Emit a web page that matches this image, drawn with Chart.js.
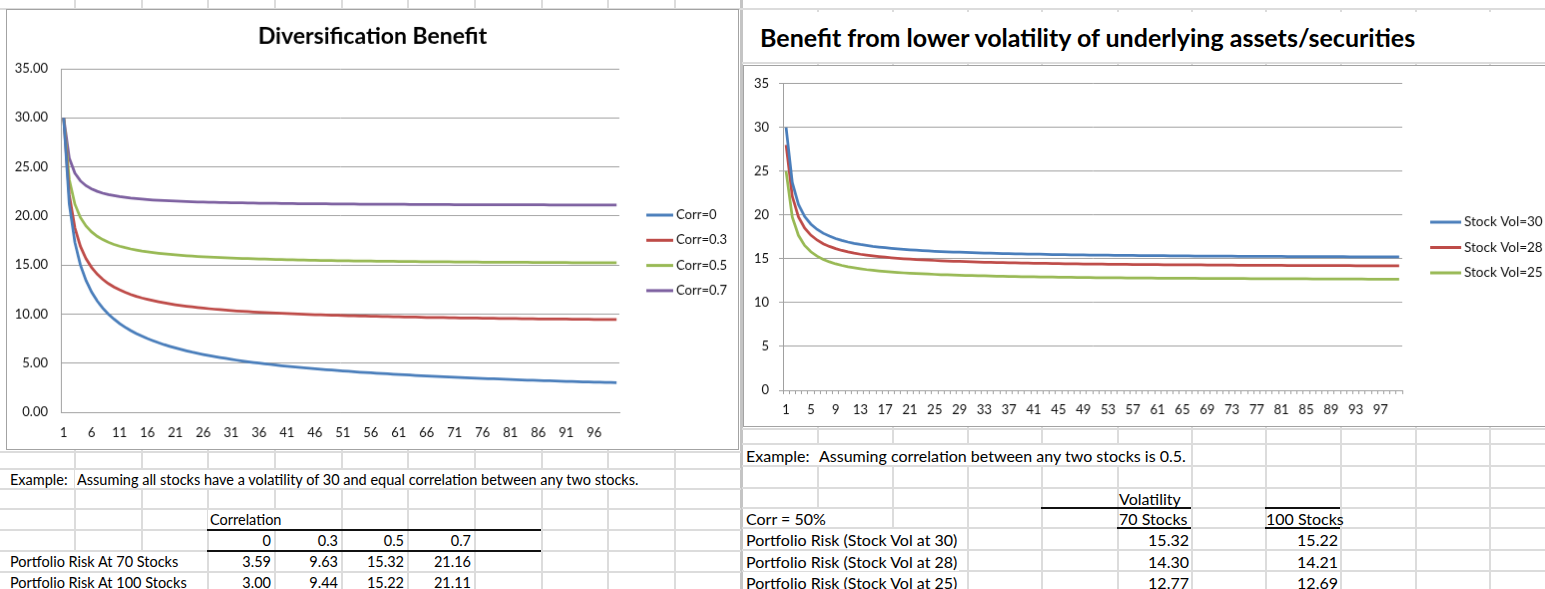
<!DOCTYPE html>
<html>
<head>
<meta charset="utf-8">
<script src="https://cdn.jsdelivr.net/npm/chart.js@4.4.1/dist/chart.umd.min.js"></script>
<style>
  html, body { margin: 0; padding: 0; background: #fff; }
  #sheet { position: relative; width: 1545px; height: 589px; overflow: hidden; font-family: Lato, sans-serif; color: #000; }
  .gl { position: absolute; background: #dcdcdc; }
  .thick { position: absolute; background: #111; }
  .cell { position: absolute; white-space: nowrap; background: #fff; padding: 0 2px; }
  .num { position: absolute; white-space: nowrap; text-align: right; }
  canvas { position: absolute; background: #fff; }
</style>
</head>
<body>
<div id="sheet">
  <canvas id="divChart" width="733" height="441" style="left:6px;top:9px;border:1px solid #a3a3a3;"></canvas>
  <canvas id="volChart" width="836" height="362" style="left:743px;top:65px;border:1px solid #a3a3a3;border-right:none;"></canvas>
</div>
<script>
const stockCounts = [
  1, 2, 3, 4, 5, 6, 7, 8, 9, 10, 11, 12, 13, 14, 15, 16, 17, 18, 19, 20,
  21, 22, 23, 24, 25, 26, 27, 28, 29, 30, 31, 32, 33, 34, 35, 36, 37, 38, 39, 40,
  41, 42, 43, 44, 45, 46, 47, 48, 49, 50, 51, 52, 53, 54, 55, 56, 57, 58, 59, 60,
  61, 62, 63, 64, 65, 66, 67, 68, 69, 70, 71, 72, 73, 74, 75, 76, 77, 78, 79, 80,
  81, 82, 83, 84, 85, 86, 87, 88, 89, 90, 91, 92, 93, 94, 95, 96, 97, 98, 99, 100
]

// portfolio risk, stock vol 30, by correlation
const corr0 = [
  30.00, 21.21, 17.32, 15.00, 13.42, 12.25, 11.34, 10.61, 10.00, 9.49,
  9.05, 8.66, 8.32, 8.02, 7.75, 7.50, 7.28, 7.07, 6.88, 6.71,
  6.55, 6.40, 6.26, 6.12, 6.00, 5.88, 5.77, 5.67, 5.57, 5.48,
  5.39, 5.30, 5.22, 5.14, 5.07, 5.00, 4.93, 4.87, 4.80, 4.74,
  4.69, 4.63, 4.57, 4.52, 4.47, 4.42, 4.38, 4.33, 4.29, 4.24,
  4.20, 4.16, 4.12, 4.08, 4.05, 4.01, 3.97, 3.94, 3.91, 3.87,
  3.84, 3.81, 3.78, 3.75, 3.72, 3.69, 3.67, 3.64, 3.61, 3.59,
  3.56, 3.54, 3.51, 3.49, 3.46, 3.44, 3.42, 3.40, 3.38, 3.35,
  3.33, 3.31, 3.29, 3.27, 3.25, 3.23, 3.22, 3.20, 3.18, 3.16,
  3.14, 3.13, 3.11, 3.09, 3.08, 3.06, 3.05, 3.03, 3.02, 3.00
]
const corr03 = [
  30.00, 22.15, 18.81, 16.90, 15.65, 14.75, 14.07, 13.54, 13.11, 12.76,
  12.47, 12.22, 12.00, 11.81, 11.64, 11.50, 11.37, 11.25, 11.14, 11.04,
  10.95, 10.87, 10.80, 10.73, 10.67, 10.61, 10.55, 10.50, 10.45, 10.41,
  10.36, 10.32, 10.29, 10.25, 10.22, 10.19, 10.16, 10.13, 10.10, 10.07,
  10.05, 10.02, 10.00, 9.98, 9.96, 9.94, 9.92, 9.90, 9.88, 9.87,
  9.85, 9.84, 9.82, 9.81, 9.79, 9.78, 9.77, 9.75, 9.74, 9.73,
  9.72, 9.71, 9.70, 9.69, 9.67, 9.66, 9.66, 9.65, 9.64, 9.63,
  9.62, 9.61, 9.60, 9.60, 9.59, 9.58, 9.57, 9.57, 9.56, 9.55,
  9.55, 9.54, 9.53, 9.53, 9.52, 9.51, 9.51, 9.50, 9.50, 9.49,
  9.49, 9.48, 9.48, 9.47, 9.47, 9.46, 9.46, 9.45, 9.45, 9.44
]
const corr05 = [
  30.00, 23.72, 21.21, 19.84, 18.97, 18.37, 17.93, 17.59, 17.32, 17.10,
  16.92, 16.77, 16.64, 16.53, 16.43, 16.35, 16.27, 16.20, 16.14, 16.09,
  16.04, 15.99, 15.95, 15.91, 15.87, 15.84, 15.81, 15.78, 15.76, 15.73,
  15.71, 15.69, 15.67, 15.65, 15.63, 15.61, 15.60, 15.58, 15.57, 15.55,
  15.54, 15.53, 15.51, 15.50, 15.49, 15.48, 15.47, 15.46, 15.45, 15.44,
  15.44, 15.43, 15.42, 15.41, 15.40, 15.40, 15.39, 15.38, 15.38, 15.37,
  15.36, 15.36, 15.35, 15.35, 15.34, 15.34, 15.33, 15.33, 15.32, 15.32,
  15.31, 15.31, 15.31, 15.30, 15.30, 15.29, 15.29, 15.29, 15.28, 15.28,
  15.28, 15.27, 15.27, 15.27, 15.26, 15.26, 15.26, 15.25, 15.25, 15.25,
  15.25, 15.24, 15.24, 15.24, 15.24, 15.23, 15.23, 15.23, 15.23, 15.22
]
const corr07 = [
  30.00, 25.89, 24.37, 23.57, 23.08, 22.75, 22.51, 22.32, 22.18, 22.07,
  21.97, 21.89, 21.82, 21.77, 21.72, 21.67, 21.63, 21.60, 21.57, 21.54,
  21.51, 21.49, 21.47, 21.45, 21.43, 21.42, 21.40, 21.39, 21.37, 21.36,
  21.35, 21.34, 21.33, 21.32, 21.31, 21.30, 21.29, 21.29, 21.28, 21.27,
  21.27, 21.26, 21.25, 21.25, 21.24, 21.24, 21.23, 21.23, 21.22, 21.22,
  21.21, 21.21, 21.21, 21.20, 21.20, 21.19, 21.19, 21.19, 21.18, 21.18,
  21.18, 21.18, 21.17, 21.17, 21.17, 21.16, 21.16, 21.16, 21.16, 21.16,
  21.15, 21.15, 21.15, 21.15, 21.15, 21.14, 21.14, 21.14, 21.14, 21.14,
  21.14, 21.13, 21.13, 21.13, 21.13, 21.13, 21.13, 21.12, 21.12, 21.12,
  21.12, 21.12, 21.12, 21.12, 21.11, 21.11, 21.11, 21.11, 21.11, 21.11
]

// portfolio risk at correlation 0.5, by stock vol (vol 30 is the same curve as corr 0.5)
const vol30 = corr05
const vol28 = [
  28.00, 22.14, 19.80, 18.52, 17.71, 17.15, 16.73, 16.42, 16.17, 15.96,
  15.79, 15.65, 15.53, 15.43, 15.34, 15.26, 15.19, 15.12, 15.06, 15.01,
  14.97, 14.92, 14.89, 14.85, 14.82, 14.79, 14.76, 14.73, 14.71, 14.68,
  14.66, 14.64, 14.62, 14.60, 14.59, 14.57, 14.56, 14.54, 14.53, 14.52,
  14.50, 14.49, 14.48, 14.47, 14.46, 14.45, 14.44, 14.43, 14.42, 14.41,
  14.41, 14.40, 14.39, 14.38, 14.38, 14.37, 14.36, 14.36, 14.35, 14.35,
  14.34, 14.33, 14.33, 14.32, 14.32, 14.31, 14.31, 14.31, 14.30, 14.30,
  14.29, 14.29, 14.29, 14.28, 14.28, 14.27, 14.27, 14.27, 14.26, 14.26,
  14.26, 14.25, 14.25, 14.25, 14.25, 14.24, 14.24, 14.24, 14.23, 14.23,
  14.23, 14.23, 14.22, 14.22, 14.22, 14.22, 14.21, 14.21, 14.21, 14.21
]
const vol25 = [
  25.00, 19.76, 17.68, 16.54, 15.81, 15.31, 14.94, 14.66, 14.43, 14.25,
  14.10, 13.98, 13.87, 13.77, 13.69, 13.62, 13.56, 13.50, 13.45, 13.40,
  13.36, 13.33, 13.29, 13.26, 13.23, 13.20, 13.18, 13.15, 13.13, 13.11,
  13.09, 13.07, 13.06, 13.04, 13.02, 13.01, 13.00, 12.98, 12.97, 12.96,
  12.95, 12.94, 12.93, 12.92, 12.91, 12.90, 12.89, 12.88, 12.88, 12.87,
  12.86, 12.86, 12.85, 12.84, 12.84, 12.83, 12.82, 12.82, 12.81, 12.81,
  12.80, 12.80, 12.79, 12.79, 12.79, 12.78, 12.78, 12.77, 12.77, 12.77,
  12.76, 12.76, 12.76, 12.75, 12.75, 12.74, 12.74, 12.74, 12.73, 12.73,
  12.73, 12.73, 12.72, 12.72, 12.72, 12.71, 12.71, 12.71, 12.71, 12.71,
  12.70, 12.70, 12.70, 12.70, 12.69, 12.69, 12.69, 12.69, 12.69, 12.69
]

// table cells under the charts
const corrLevels = ['0', '0.3', '0.5', '0.7']
const corrRisk70 = ['3.59', '9.63', '15.32', '21.16']
const corrRisk100 = ['3.00', '9.44', '15.22', '21.11']
const volRowLabels = ['Portfolio Risk (Stock Vol at 30)', 'Portfolio Risk (Stock Vol at 28)', 'Portfolio Risk (Stock Vol at 25)']
const volRisk70 = ['15.32', '14.30', '12.77']
const volRisk100 = ['15.22', '14.21', '12.69']

const blue = '#4a7ebb'
const red = '#be4b48'
const green = '#98b954'
const purple = '#7d60a0'
const gridColor = '#a0a0a0'

Chart.defaults.font.family = 'Lato'
Chart.defaults.color = '#111'

// spreadsheet grid behind everything
const sheet = document.getElementById('sheet')
const leftCols = [74, 141, 207, 274, 341, 407, 474, 541, 607, 674]
const leftRows = [451, 468, 488, 508, 529, 550, 571]
const rightCols = [817, 892, 967, 1041, 1117, 1191, 1265, 1340, 1415, 1489]
const rightRows = [62, 428, 443, 465, 487, 507, 527, 549, 570]

function box(cls, x, y, w, h) {
  const d = document.createElement('div')
  d.className = cls
  d.style.left = x + 'px'
  d.style.top = y + 'px'
  d.style.width = w + 'px'
  d.style.height = h + 'px'
  sheet.insertBefore(d, sheet.firstChild)
  return d
}

box('gl', 0, 8, 1545, 2)
leftCols.forEach(x => box('gl', x, 0, 2, 589))
leftRows.forEach(y => box('gl', 0, y, 741, 2))
rightCols.forEach(x => box('gl', x, 9, 2, 580))
rightRows.forEach(y => box('gl', 742, y, 803, 2))
box('gl', 740, 0, 3, 589).style.background = '#c4c4c4'

// thick borders of the two small tables
function thick(x, y, w) {
  const d = document.createElement('div')
  d.className = 'thick'
  Object.assign(d.style, { left: x + 'px', top: y + 'px', width: w + 'px', height: '2px' })
  sheet.appendChild(d)
}
thick(207, 529, 334)
thick(207, 550, 334)
thick(1041, 507, 150)
thick(1265, 507, 75)
thick(1117, 527, 74)
thick(1265, 527, 75)

function cell(text, x, top, h, size, extra) {
  const d = document.createElement('div')
  d.className = 'cell'
  d.textContent = text
  Object.assign(d.style, {
    left: x + 'px', top: (top + 2) + 'px', height: (h - 2) + 'px',
    lineHeight: (h - 1) + 'px', fontSize: size + 'px'
  }, extra || {})
  sheet.appendChild(d)
}
function num(text, right, top, h, size) {
  const d = document.createElement('div')
  d.className = 'num'
  d.textContent = text
  Object.assign(d.style, {
    left: (right - 60) + 'px', width: '60px', top: (top + 2) + 'px', height: (h - 2) + 'px',
    lineHeight: (h - 1) + 'px', fontSize: size + 'px'
  })
  sheet.appendChild(d)
}

// left sheet text
const ls = 14.5
cell('Example:', 8, 468, 20, ls)
cell('Assuming all stocks have a volatility of 30 and equal correlation between any two stocks.', 75, 468, 20, ls)
cell('Correlation', 208, 508, 21, ls)
corrLevels.forEach((t, i) => num(t, leftCols[3 + i] - 3, 529, 21, ls))
cell('Portfolio Risk At 70 Stocks', 8, 550, 21, ls)
corrRisk70.forEach((t, i) => num(t, leftCols[3 + i] - 3, 550, 21, ls))
cell('Portfolio Risk At 100 Stocks', 8, 571, 21, ls)
corrRisk100.forEach((t, i) => num(t, leftCols[3 + i] - 3, 571, 21, ls))

// right sheet text
const rs = 16
cell('Benefit from lower volatility of underlying assets/securities', 744, 10, 52, 25,
  { fontWeight: 'bold', paddingLeft: '16px', width: '780px' })
cell('Example:', 744, 443, 22, rs)
cell('Assuming correlation between any two stocks is 0.5.', 817, 443, 22, rs)
cell('Volatility', 1117, 487, 20, rs, { background: 'transparent' })
cell('Corr = 50%', 744, 507, 20, rs)
cell('70 Stocks', 1117, 507, 20, rs, { background: 'transparent' })
cell('100 Stocks', 1264, 507, 20, rs, { background: 'transparent' })
const volRowTops = [527, 549, 570]
volRowLabels.forEach((t, i) => {
  cell(t, 744, volRowTops[i], 22, rs)
  num(volRisk70[i], 1189, volRowTops[i], 22, rs)
  num(volRisk100[i], 1338, volRowTops[i], 22, rs)
})

// title centred on the whole chart box, not just the plot
const boxTitle = {
  id: 'boxTitle',
  afterDraw(chart, args, opts) {
    if (!opts.text) return
    const ctx = chart.ctx
    ctx.save()
    ctx.font = 'bold ' + opts.fontSize + 'px Lato'
    ctx.fillStyle = '#000'
    ctx.textAlign = 'center'
    ctx.textBaseline = 'middle'
    ctx.fillText(opts.text, chart.width / 2, opts.y)
    ctx.restore()
  }
}

// legend drawn beside the plot, Excel style (short line then label)
const sideLegend = {
  id: 'sideLegend',
  afterDraw(chart, args, opts) {
    const ctx = chart.ctx
    const area = chart.chartArea
    ctx.save()
    ctx.font = opts.fontSize + 'px Lato'
    ctx.textBaseline = 'middle'
    chart.data.datasets.forEach((ds, i) => {
      const x = area.right + opts.offset
      const y = opts.top + i * opts.gap
      ctx.strokeStyle = ds.borderColor
      ctx.lineWidth = 3
      ctx.beginPath()
      ctx.moveTo(x, y)
      ctx.lineTo(x + opts.lineLen, y)
      ctx.stroke()
      ctx.fillStyle = '#111'
      ctx.fillText(ds.label, x + opts.lineLen + 3, y)
    })
    ctx.restore()
  }
}

function lineSet(label, data, color) {
  return { label: label, data: data, borderColor: color, backgroundColor: color, borderWidth: 2.75, pointRadius: 0, tension: 0 }
}

new Chart(document.getElementById('divChart'), {
  type: 'line',
  data: {
    labels: stockCounts,
    datasets: [
      lineSet('Corr=0', corr0, blue),
      lineSet('Corr=0.3', corr03, red),
      lineSet('Corr=0.5', corr05, green),
      lineSet('Corr=0.7', corr07, purple)
    ]
  },
  options: {
    responsive: false,
    animation: false,
    layout: { padding: { top: 59, right: 119, bottom: 0, left: 0 } },
    plugins: {
      legend: { display: false },
      tooltip: { enabled: false },
      title: { display: false },
      boxTitle: { text: 'Diversification Benefit', fontSize: 23, y: 27 },
      sideLegend: { offset: 27, top: 206, gap: 25.3, lineLen: 27, fontSize: 13 }
    },
    scales: {
      x: {
        offset: true,
        grid: { display: false, drawTicks: false },
        border: { display: true, color: gridColor },
        ticks: {
          autoSkip: false, maxRotation: 0, minRotation: 0, padding: 13,
          font: { size: 13 },
          callback: (v, i) => i % 5 === 0 ? stockCounts[i] : ''
        },
        afterFit: s => { s.height = 37 }
      },
      y: {
        min: 0, max: 35,
        grid: { color: gridColor, drawTicks: false },
        border: { display: true, color: gridColor },
        ticks: { stepSize: 5, padding: 13, font: { size: 13 }, callback: v => v.toFixed(2) },
        afterFit: s => { s.width = 54 }
      }
    }
  },
  plugins: [boxTitle, sideLegend]
})

new Chart(document.getElementById('volChart'), {
  type: 'line',
  data: {
    labels: stockCounts,
    datasets: [
      lineSet('Stock Vol=30', vol30, blue),
      lineSet('Stock Vol=28', vol28, red),
      lineSet('Stock Vol=25', vol25, green)
    ]
  },
  options: {
    responsive: false,
    animation: false,
    layout: { padding: { top: 16, right: 177, bottom: 0, left: 0 } },
    plugins: {
      legend: { display: false },
      tooltip: { enabled: false },
      sideLegend: { offset: 28, top: 157, gap: 25.5, lineLen: 31, fontSize: 13.5 }
    },
    scales: {
      x: {
        offset: true,
        grid: { offset: true, drawOnChartArea: false, tickLength: 4, color: gridColor },
        border: { display: true, color: gridColor },
        ticks: {
          autoSkip: false, maxRotation: 0, minRotation: 0, padding: 8,
          font: { size: 13 },
          callback: (v, i) => i % 4 === 0 ? stockCounts[i] : ''
        },
        afterFit: s => { s.height = 36 }
      },
      y: {
        min: 0, max: 35,
        grid: { color: gridColor, tickLength: 4 },
        border: { display: true, color: gridColor },
        ticks: { stepSize: 5, padding: 10, font: { size: 13 } },
        afterFit: s => { s.width = 39 }
      }
    }
  },
  plugins: [boxTitle, sideLegend]
})
</script>
</body>
</html>
